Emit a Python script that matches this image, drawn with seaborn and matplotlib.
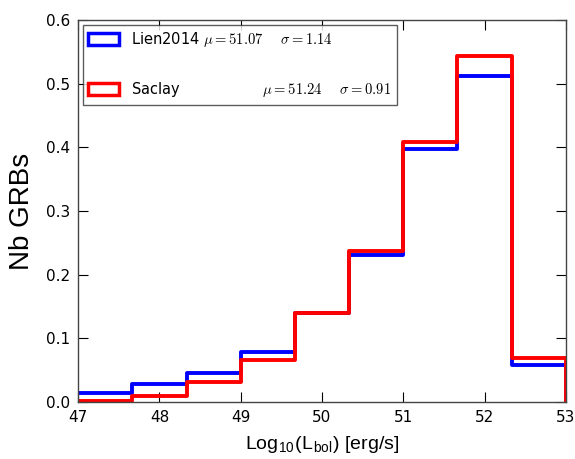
import numpy as np
import pandas as pd
import matplotlib
matplotlib.use("Agg")
import matplotlib.pyplot as plt
from matplotlib.patches import Patch
import seaborn as sns

# Data (normalised histograms)
bin_edges = [47.0, 47.667, 48.333, 49.0, 49.667, 50.333, 51.0, 51.667, 52.333, 53.0]
lien2014 = [0.015, 0.028, 0.046, 0.079, 0.140, 0.231, 0.398, 0.513, 0.058]
saclay = [0.002, 0.009, 0.031, 0.066, 0.140, 0.237, 0.408, 0.544, 0.069]
series_names = ["Lien2014", "Saclay"]
series_stats = {"Lien2014": (51.07, 1.14), "Saclay": (51.24, 0.91)}
colors = {"Lien2014": "#0000ff", "Saclay": "#ff0000"}

centers = [(a + b) / 2 for a, b in zip(bin_edges[:-1], bin_edges[1:])]
df = pd.DataFrame({
    "lbol": centers * 2,
    "frac": lien2014 + saclay,
    "sample": ["Lien2014"] * len(centers) + ["Saclay"] * len(centers),
})

sns.set_style("ticks")
plt.rcParams["mathtext.fontset"] = "cm"
plt.rcParams["font.family"] = ["DejaVu Sans"]
plt.rcParams["text.color"] = "black"
plt.rcParams["xtick.color"] = "black"
plt.rcParams["ytick.color"] = "black"
plt.rcParams["axes.labelcolor"] = "black"

fig = plt.figure(figsize=(5.75, 4.59), dpi=100)
ax = fig.add_axes([0.136, 0.124, 0.848, 0.832])

for name in series_names:
    sub = df[df["sample"] == name]
    sns.histplot(data=sub, x="lbol", weights="frac", bins=bin_edges,
                 element="step", fill=False, color=colors[name],
                 linewidth=2.8, ax=ax)
    vals = sub["frac"].tolist()
    ax.vlines(bin_edges[-1], 0, vals[-1], color=colors[name], linewidth=2.8)

ax.set_xlim(47, 53)
ax.set_ylim(0, 0.6)
ax.set_xticks(range(47, 54))
ax.set_yticks(np.arange(0, 0.61, 0.1))
ax.set_yticklabels([f"{v:.1f}" for v in np.arange(0, 0.61, 0.1)])
ax.tick_params(direction="in", top=True, right=True, length=7, width=0.8,
               labelsize=11, pad=6)
for s in ax.spines.values():
    s.set_color("#444444")
    s.set_linewidth(1.0)

ax.set_xlabel(r"Log$_{\mathregular{10}}$(L$_{\mathregular{bol}}$) [erg/s]",
              fontsize=14, family=["Liberation Sans"], labelpad=6)
ax.set_ylabel("Nb GRBs", fontsize=20, family=["Liberation Sans"], labelpad=8)

labels = [
    r"Lien2014 $\mu=%.2f$    $\sigma=%.2f$" % series_stats["Lien2014"],
    r"Saclay                  $\mu=%.2f$    $\sigma=%.2f$" % series_stats["Saclay"],
]
handles = [Patch(facecolor="white", edgecolor=colors[n], linewidth=2.5)
           for n in series_names]
leg = ax.legend(handles, labels, loc="upper left", fontsize=10.5,
                labelspacing=2.1, handlelength=2.1, handleheight=0.9,
                fancybox=False, frameon=True, borderaxespad=0.3,
                bbox_to_anchor=(0.0, 1.0))
leg.get_frame().set_edgecolor("#333333")
leg.get_frame().set_linewidth(1.0)

fig.savefig("out.png", dpi=100)
